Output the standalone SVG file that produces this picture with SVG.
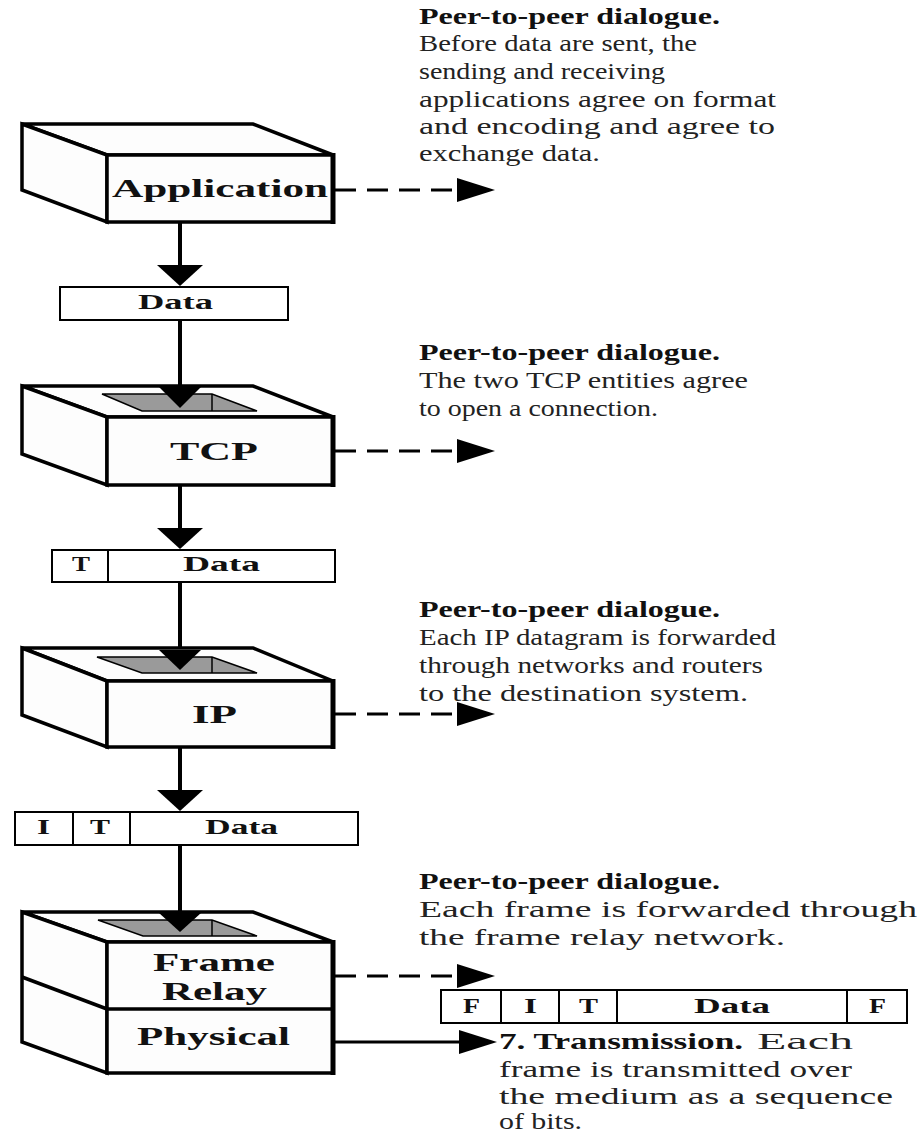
<svg xmlns="http://www.w3.org/2000/svg" width="922" height="1132" viewBox="0 0 922 1132">
<style>
.box{fill:#fdfdfd;stroke:#000;stroke-width:3.5;stroke-linejoin:miter}
.edge{fill:none;stroke:#000;stroke-width:5}
.hole{fill:#9a9a9a;stroke:#000;stroke-width:1.5}
.pkt{fill:#fff;stroke:#000;stroke-width:2}
.lbl{font-family:"Liberation Serif",serif;font-weight:bold;font-size:26px;fill:#111}
.pl{font-family:"Liberation Serif",serif;font-weight:bold;font-size:22px;fill:#111}
.b{font-family:"Liberation Serif",serif;font-weight:bold;font-size:24px;fill:#111}
.t{font-family:"Liberation Serif",serif;font-size:24px;fill:#222}
.stem{fill:none;stroke:#000;stroke-width:4}
.dash{fill:none;stroke:#000;stroke-width:3;stroke-dasharray:21 11}
.solid{fill:none;stroke:#000;stroke-width:3}
.head{fill:#000}
</style>
<rect width="922" height="1132" fill="#fff"/>

<g id="connectors">
  <!-- vertical flow -->
  <line class="stem" x1="180" y1="222" x2="180" y2="266"/>
  <polygon class="head" points="157,265 203,265 180,286"/>
  <line class="stem" x1="180" y1="320" x2="180" y2="388"/>
  <line class="stem" x1="180" y1="485" x2="180" y2="529"/>
  <polygon class="head" points="157,528 203,528 180,549"/>
  <line class="stem" x1="180" y1="582" x2="180" y2="651"/>
  <line class="stem" x1="180" y1="747" x2="180" y2="791"/>
  <polygon class="head" points="157,790 203,790 180,811"/>
  <line class="stem" x1="180" y1="845" x2="180" y2="914"/>
  <!-- peer-to-peer dashed arrows -->
  <line class="dash" x1="335" y1="190" x2="457" y2="190"/>
  <polygon class="head" points="457,178 495,190 457,202"/>
  <line class="dash" x1="335" y1="451" x2="457" y2="451"/>
  <polygon class="head" points="457,439 495,451 457,463"/>
  <line class="dash" x1="335" y1="714" x2="457" y2="714"/>
  <polygon class="head" points="457,702 495,714 457,726"/>
  <line class="dash" x1="335" y1="976" x2="457" y2="976"/>
  <polygon class="head" points="457,964 495,976 457,988"/>
  <!-- transmission arrow -->
  <line class="solid" x1="333" y1="1042" x2="460" y2="1042"/>
  <polygon class="head" points="459,1030 497,1042 459,1054"/>
</g>

<g id="app">
  <polygon class="box" points="22,124 253,124 333,155 107,155"/>
  <polygon class="box" points="22,124 107,155 107,222 22,190"/>
  <rect class="box" x="107" y="155" width="226" height="67"/>
  <line class="edge" x1="333" y1="153" x2="333" y2="224"/>
  <text class="lbl" x="112" y="197" textLength="216" lengthAdjust="spacingAndGlyphs">Application</text>
</g>

<g id="tcp">
  <polygon class="box" points="22,386 253,386 333,417 107,417"/>
  <polygon class="box" points="22,386 107,417 107,485 22,454"/>
  <rect class="box" x="107" y="417" width="226" height="68"/>
  <line class="edge" x1="333" y1="415" x2="333" y2="487"/>
  <polygon class="hole" points="102,394 212,394 257,411 142,411"/>
  <line class="hole" x1="212" y1="394" x2="212" y2="411"/>
  <polygon class="head" points="159,387 201,387 180,408"/>
  <text class="lbl" x="170" y="460" textLength="88" lengthAdjust="spacingAndGlyphs">TCP</text>
</g>

<g id="ip">
  <polygon class="box" points="22,648 253,648 333,681 107,681"/>
  <polygon class="box" points="22,648 107,681 107,747 22,715"/>
  <rect class="box" x="107" y="681" width="226" height="66"/>
  <line class="edge" x1="333" y1="679" x2="333" y2="749"/>
  <polygon class="hole" points="97,657 212,657 257,673 142,673"/>
  <line class="hole" x1="212" y1="657" x2="212" y2="673"/>
  <polygon class="head" points="159,650 201,650 180,670"/>
  <text class="lbl" x="192" y="723" textLength="45" lengthAdjust="spacingAndGlyphs">IP</text>
</g>

<g id="framerelay">
  <polygon class="box" points="22,912 253,912 333,942 107,942"/>
  <polygon class="box" points="22,912 107,942 107,1073 22,1042"/>
  <line class="box" x1="22" y1="977" x2="107" y2="1009"/>
  <rect class="box" x="107" y="942" width="226" height="131"/>
  <line class="box" x1="107" y1="1009" x2="333" y2="1009"/>
  <line class="edge" x1="333" y1="940" x2="333" y2="1075"/>
  <polygon class="hole" points="98,920 212,920 257,936 143,936"/>
  <line class="hole" x1="212" y1="920" x2="212" y2="936"/>
  <polygon class="head" points="159,913 201,913 180,932"/>
  <text class="lbl" x="153" y="971" textLength="122" lengthAdjust="spacingAndGlyphs">Frame</text>
  <text class="lbl" x="162" y="1000" textLength="105" lengthAdjust="spacingAndGlyphs">Relay</text>
</g>

<g id="physical">
  <text class="lbl" x="137" y="1045" textLength="153" lengthAdjust="spacingAndGlyphs">Physical</text>
</g>

<g id="pkt-data">
  <rect class="pkt" x="60" y="287" width="228" height="33"/>
  <text class="pl" x="138" y="309" textLength="75" lengthAdjust="spacingAndGlyphs">Data</text>
</g>

<g id="pkt-tdata">
  <rect class="pkt" x="52" y="550" width="283" height="32"/>
  <line class="pkt" x1="108" y1="550" x2="108" y2="582"/>
  <text class="pl" x="72" y="571" textLength="18" lengthAdjust="spacingAndGlyphs">T</text>
  <text class="pl" x="183" y="571" textLength="77" lengthAdjust="spacingAndGlyphs">Data</text>
</g>

<g id="pkt-itdata">
  <rect class="pkt" x="15" y="812" width="343" height="33"/>
  <line class="pkt" x1="73" y1="812" x2="73" y2="845"/>
  <line class="pkt" x1="130" y1="812" x2="130" y2="845"/>
  <text class="pl" x="37" y="834" textLength="13" lengthAdjust="spacingAndGlyphs">I</text>
  <text class="pl" x="90" y="834" textLength="20" lengthAdjust="spacingAndGlyphs">T</text>
  <text class="pl" x="205" y="834" textLength="73" lengthAdjust="spacingAndGlyphs">Data</text>
</g>

<g id="pkt-frame">
  <rect class="pkt" x="441" y="990" width="466" height="33"/>
  <line class="pkt" x1="501" y1="990" x2="501" y2="1023"/>
  <line class="pkt" x1="559" y1="990" x2="559" y2="1023"/>
  <line class="pkt" x1="617" y1="990" x2="617" y2="1023"/>
  <line class="pkt" x1="847" y1="990" x2="847" y2="1023"/>
  <text class="pl" x="463" y="1013" textLength="17" lengthAdjust="spacingAndGlyphs">F</text>
  <text class="pl" x="524" y="1013" textLength="13" lengthAdjust="spacingAndGlyphs">I</text>
  <text class="pl" x="579" y="1013" textLength="19" lengthAdjust="spacingAndGlyphs">T</text>
  <text class="pl" x="694" y="1013" textLength="76" lengthAdjust="spacingAndGlyphs">Data</text>
  <text class="pl" x="869" y="1013" textLength="17" lengthAdjust="spacingAndGlyphs">F</text>
</g>

<g id="note-app">
  <text class="b" x="419" y="24" textLength="301" lengthAdjust="spacingAndGlyphs">Peer-to-peer dialogue.</text>
  <text class="t" x="419" y="51" textLength="278" lengthAdjust="spacingAndGlyphs">Before data are sent, the</text>
  <text class="t" x="419" y="79" textLength="246" lengthAdjust="spacingAndGlyphs">sending and receiving</text>
  <text class="t" x="419" y="107" textLength="357" lengthAdjust="spacingAndGlyphs">applications agree on format</text>
  <text class="t" x="419" y="134" textLength="356" lengthAdjust="spacingAndGlyphs">and encoding and agree to</text>
  <text class="t" x="419" y="161" textLength="181" lengthAdjust="spacingAndGlyphs">exchange data.</text>
</g>

<g id="note-tcp">
  <text class="b" x="419" y="360" textLength="301" lengthAdjust="spacingAndGlyphs">Peer-to-peer dialogue.</text>
  <text class="t" x="419" y="388" textLength="329" lengthAdjust="spacingAndGlyphs">The two TCP entities agree</text>
  <text class="t" x="419" y="416" textLength="239" lengthAdjust="spacingAndGlyphs">to open a connection.</text>
</g>

<g id="note-ip">
  <text class="b" x="419" y="617" textLength="301" lengthAdjust="spacingAndGlyphs">Peer-to-peer dialogue.</text>
  <text class="t" x="419" y="645" textLength="357" lengthAdjust="spacingAndGlyphs">Each IP datagram is forwarded</text>
  <text class="t" x="419" y="673" textLength="344" lengthAdjust="spacingAndGlyphs">through networks and routers</text>
  <text class="t" x="419" y="701" textLength="329" lengthAdjust="spacingAndGlyphs">to the destination system.</text>
</g>

<g id="note-fr">
  <text class="b" x="419" y="889" textLength="301" lengthAdjust="spacingAndGlyphs">Peer-to-peer dialogue.</text>
  <text class="t" x="419" y="917" textLength="498" lengthAdjust="spacingAndGlyphs">Each frame is forwarded through</text>
  <text class="t" x="419" y="945" textLength="366" lengthAdjust="spacingAndGlyphs">the frame relay network.</text>
</g>

<g id="note-physical">
  <text class="b" x="499" y="1049" textLength="244" lengthAdjust="spacingAndGlyphs">7. Transmission.</text>
  <text class="t" x="757" y="1049" textLength="96" lengthAdjust="spacingAndGlyphs">Each</text>
  <text class="t" x="499" y="1077" textLength="353" lengthAdjust="spacingAndGlyphs">frame is transmitted over</text>
  <text class="t" x="499" y="1104" textLength="394" lengthAdjust="spacingAndGlyphs">the medium as a sequence</text>
  <text class="t" x="499" y="1129" textLength="83" lengthAdjust="spacingAndGlyphs">of bits.</text>
</g>
</svg>
